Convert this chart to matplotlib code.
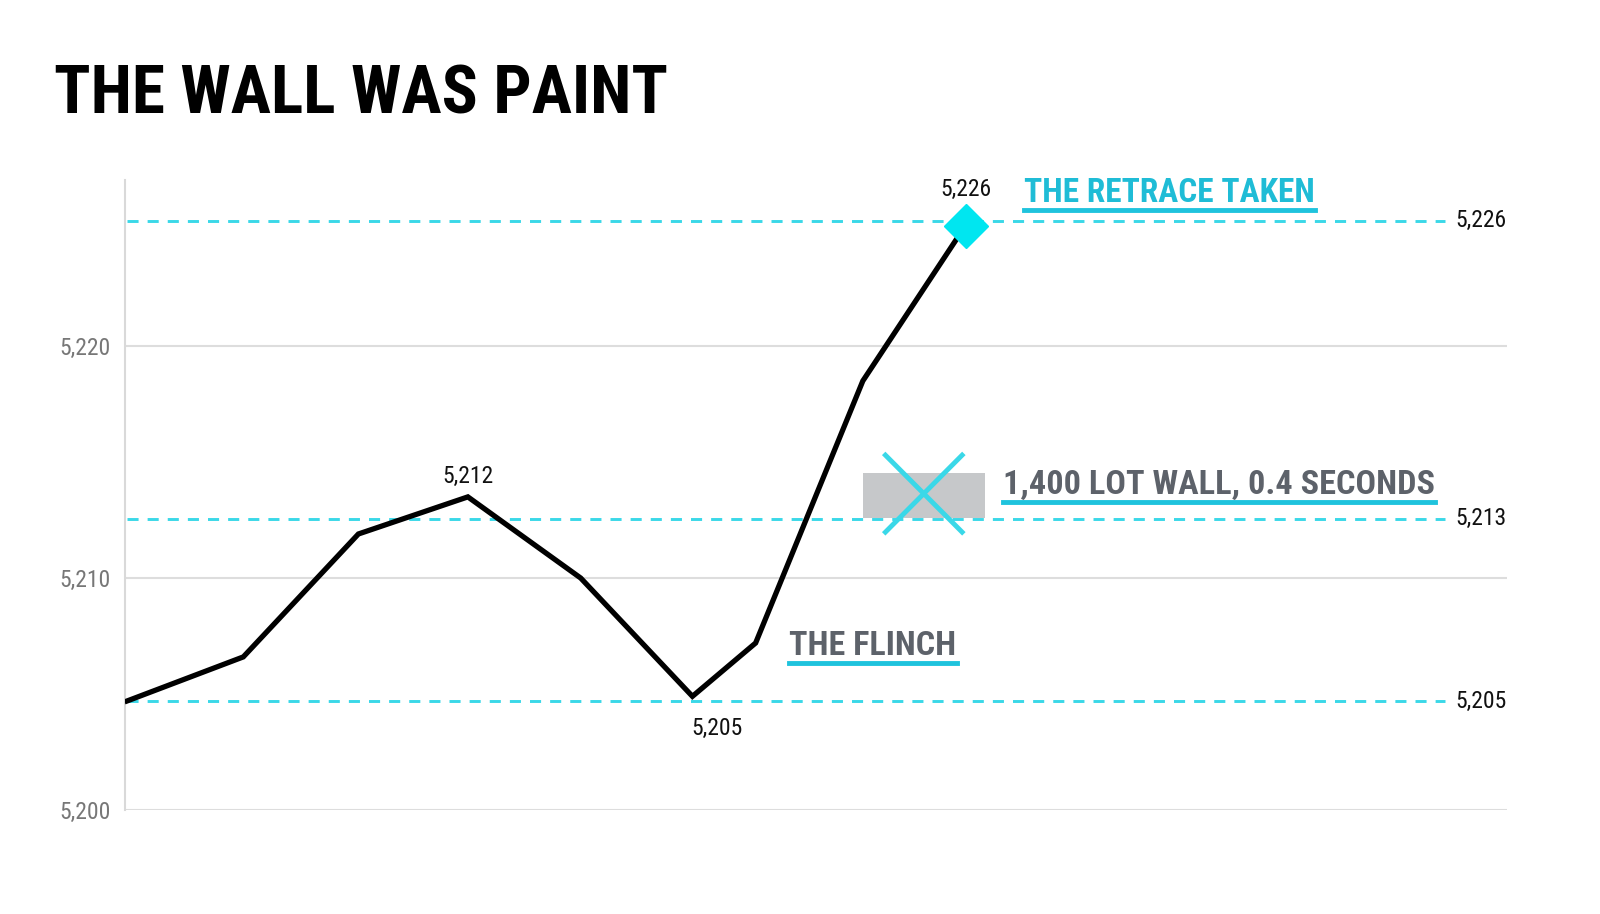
import matplotlib
matplotlib.use("Agg")
import matplotlib.pyplot as plt
from matplotlib import font_manager
from matplotlib.lines import Line2D

# look for a narrow face, fall back to DejaVu condensed
names = {f.name for f in font_manager.fontManager.ttflist}
FONT, STRETCH = 'DejaVu Sans', 'condensed'
for cand in ['Roboto Condensed', 'Liberation Sans Narrow', 'Open Sans Condensed',
             'Noto Sans Condensed', 'DejaVu Sans Condensed']:
    if cand in names:
        FONT, STRETCH = cand, 'normal'
        break
plt.rcParams['font.family'] = [FONT, 'DejaVu Sans']
plt.rcParams['font.stretch'] = STRETCH

# price path
t = [0, 1.03, 2.05, 3.02, 4.02, 5.01, 5.57, 6.52, 7.43]
price = [5204.7, 5206.6, 5211.9, 5213.5, 5210.0, 5204.9, 5207.2, 5218.5, 5225.2]

# reference levels (dashed) and their labels
levels = [5225.4, 5212.55, 5204.7]
level_labels = ['5,226', '5,213', '5,205']

# point labels: x, baseline y, text
pt_x = [3.02, 5.23, 7.43]
pt_y = [5214.1, 5203.25, 5226.47]
pt_labels = ['5,212', '5,205', '5,226']

yticks = [5200, 5210, 5220]
ytick_labels = ['5,200', '5,210', '5,220']

# spoofed wall box and cross
wall_x = (6.52, 7.60)
wall_y = (5212.6, 5214.55)
cross_x = (6.72, 7.40)
cross_y = (5211.98, 5215.3)

# annotations: x, baseline y, text, target width in px
notes = [
    (7.95, 5226.2, 'THE RETRACE TAKEN', 290),
    (7.76, 5213.62, '1,400 LOT WALL, 0.4 SECONDS', 432),
    (5.87, 5206.68, 'THE FLINCH', 166),
]
note_colors = ['#1fbcd6', '#5d626a', '#5d626a']

CYAN = '#3ad8e8'
LINE_CYAN = '#1fc3dd'

fig = plt.figure(figsize=(16, 9.14), dpi=100)
ax = fig.add_axes([0.078, 0.1138, 0.864, 0.6892])
ax.set_xlim(-0.02, 12.23)
ax.set_ylim(5200, 5227.16)

for s in ['top', 'right', 'bottom']:
    ax.spines[s].set_visible(False)
ax.spines['left'].set_color('#d9d9d9')
ax.spines['left'].set_linewidth(1.5)
ax.set_xticks([])
ax.set_yticks(yticks)
ax.set_yticklabels(ytick_labels, fontsize=17, color='#777777')
ax.tick_params(axis='y', length=0, pad=10)
for y in yticks:
    ax.axhline(y, color='#dddddd', lw=1.5, zorder=1)

for y, lab in zip(levels, level_labels):
    ax.plot([0, 11.68], [y, y], color=CYAN, lw=2.1, dashes=(3.8, 3.1), zorder=2)
    ax.text(11.77, y, lab, fontsize=17, color='#111111', va='center', ha='left')

ax.fill_between(wall_x, wall_y[0], wall_y[1], color='#c6c8ca', lw=0, zorder=2)
ax.plot(cross_x, cross_y, color=CYAN, lw=3.5, zorder=3)
ax.plot(cross_x, cross_y[::-1], color=CYAN, lw=3.5, zorder=3)

ax.plot(t, price, color='black', lw=3.8, solid_joinstyle='miter', zorder=4)
ax.plot(t[-1], price[-1], marker='D', markersize=22, color='#00e6f0', zorder=5)

for x, y, lab in zip(pt_x, pt_y, pt_labels):
    ax.text(x, y, lab, fontsize=17, ha='center', va='baseline', color='#111111')

note_txt = []
for (x, y, s, w), c in zip(notes, note_colors):
    note_txt.append(ax.text(x, y, s, fontsize=30, fontweight='bold', color=c,
                            ha='left', va='baseline'))

title = fig.text(0.034, 1 - 113 / 914, 'THE WALL WAS PAINT', fontsize=62,
                 fontweight='bold', color='black', ha='left', va='baseline')

# shrink the wide texts so they span what the reference spans
fig.canvas.draw()
r = fig.canvas.get_renderer()
for tx, target in zip(note_txt + [title], [n[3] for n in notes] + [613]):
    bb = tx.get_window_extent(r)
    tx.set_fontsize(tx.get_fontsize() * target / bb.width)

fig.canvas.draw()
W, H = fig.get_size_inches() * fig.dpi
for tx, (x, y, s, w) in zip(note_txt, notes):
    bb = tx.get_window_extent(r)
    yb = ax.transData.transform((x, y))[1] - 8
    fig.add_artist(Line2D([bb.x0 / W, bb.x1 / W], [yb / H, yb / H], color=LINE_CYAN, lw=3.5))

fig.savefig('out.png', dpi=100, facecolor='white')
